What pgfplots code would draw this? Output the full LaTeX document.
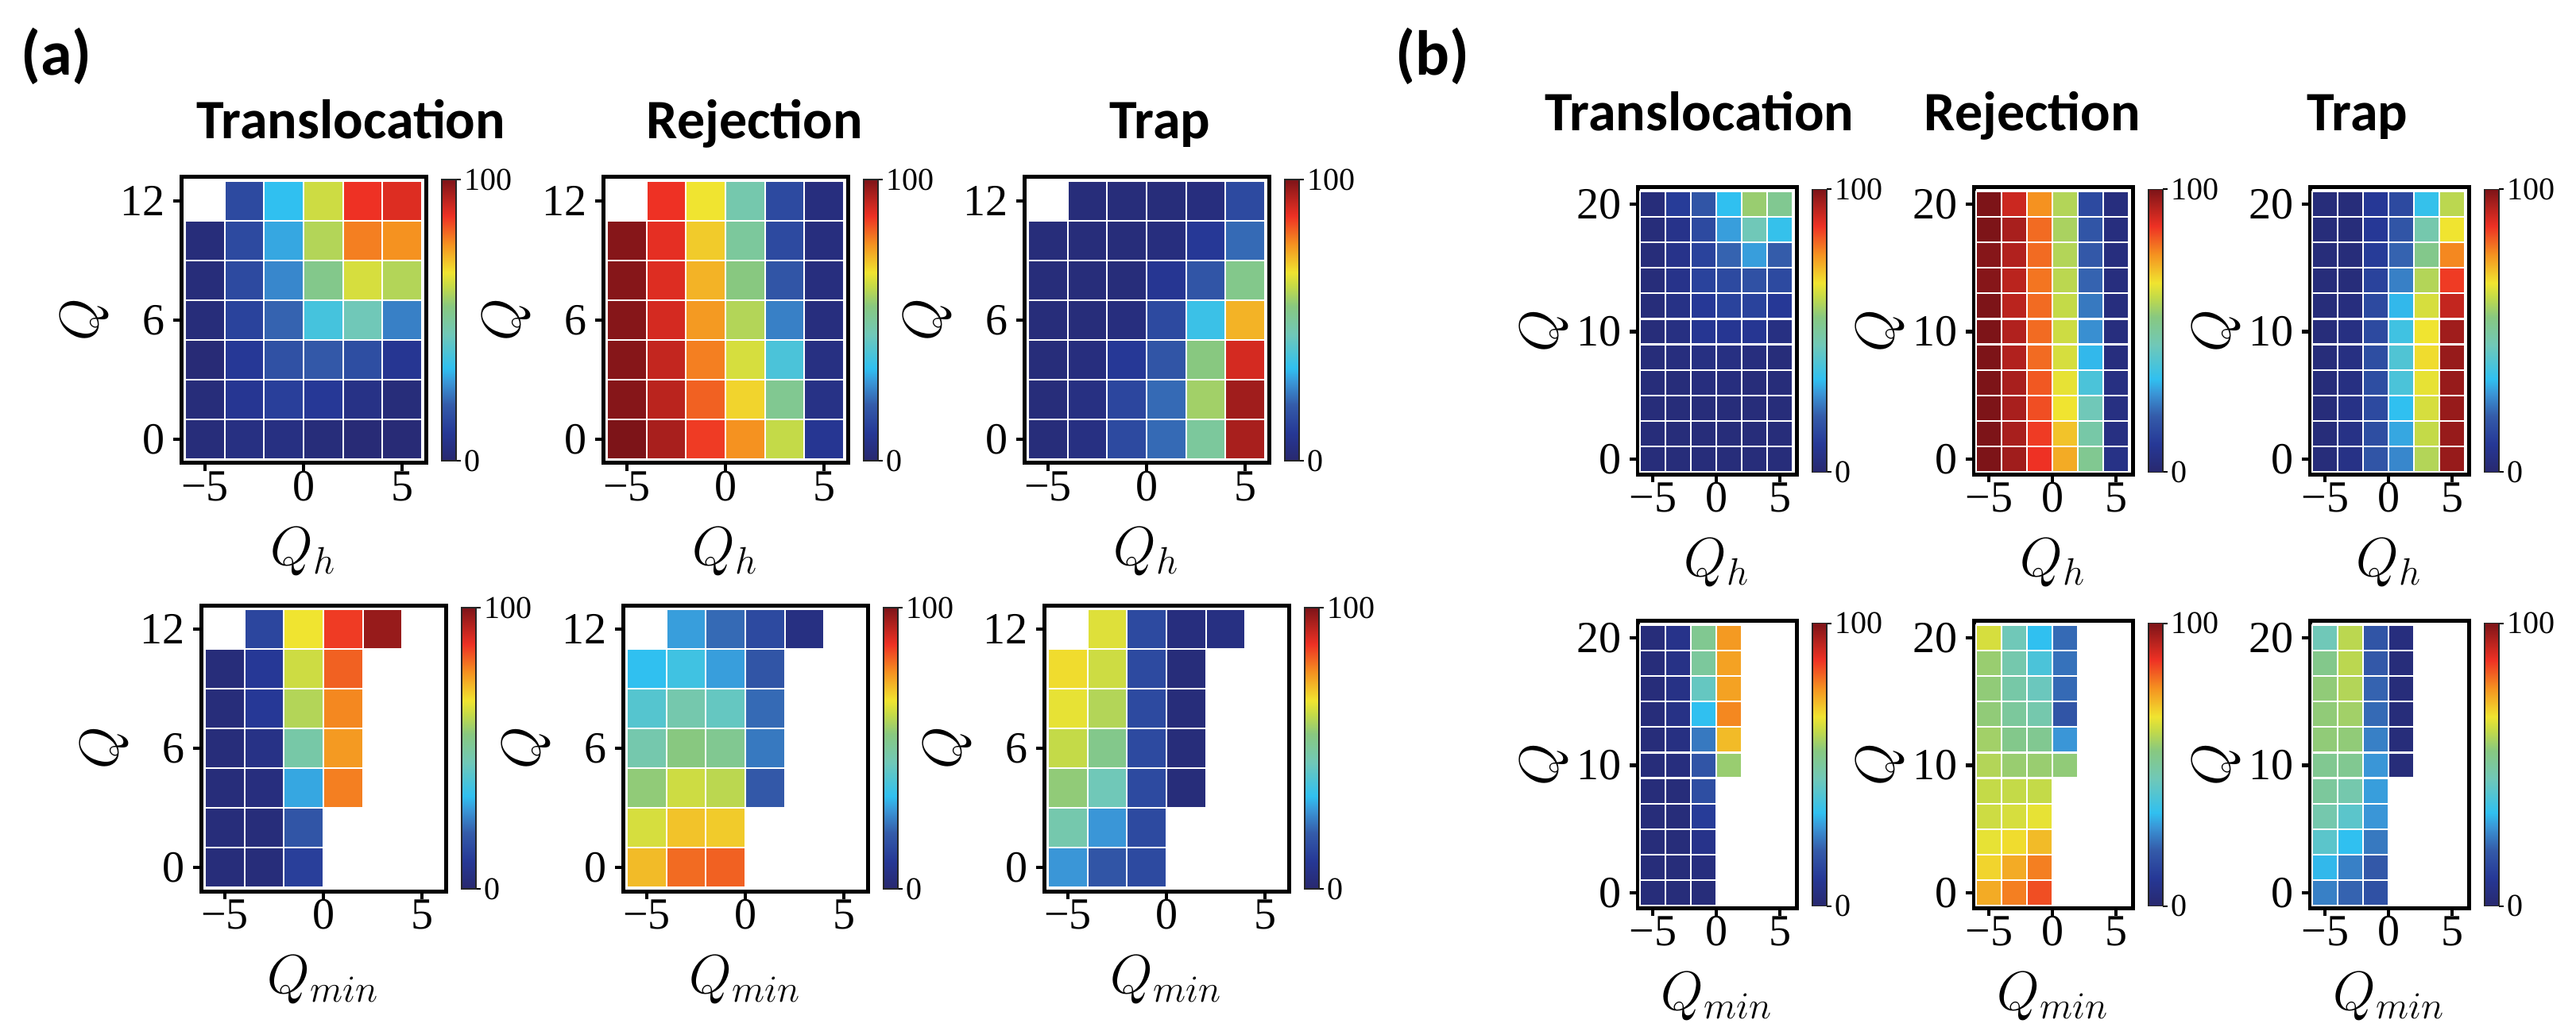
\documentclass[border=0pt]{standalone}
\usepackage{fontspec}
\setmainfont{Liberation Serif}
\newfontfamily\titlefont{Carlito}
\usepackage{pgfplots}
\usepackage{pgfplotstable}
\pgfplotsset{compat=1.18}

\newcommand\ticksz{\fontsize{14}{16}\selectfont}
\newcommand\cbsz{\fontsize{10}{11}\selectfont}
\newcommand\qsz{\fontsize{17.28}{20}\selectfont}
\newcommand\ttsz{\titlefont\bfseries\fontsize{17.5}{20}\selectfont}

% ---------------- data: x y value ----------------
\pgfplotstableread{
x y c
-3 12 15
-1 12 33
1 12 63
3 12 87
5 12 89
-5 10 3
-3 10 15
-1 10 30
1 10 60
3 10 79
5 10 77
-5 8 3
-3 8 15
-1 8 26
1 8 53
3 8 64
5 8 60
-5 6 3
-3 6 13
-1 6 21
1 6 37
3 6 45
5 6 25
-5 4 2
-3 4 10
-1 4 17
1 4 19
3 4 16
5 4 9
-5 2 3
-3 2 9
-1 2 12
1 2 10
3 2 6
5 2 3
-5 0 3
-3 0 5
-1 0 5
1 0 3
3 0 2
5 0 2
}\tAa
\pgfplotstableread{
x y c
-3 12 87
-1 12 67
1 12 47
3 12 15
5 12 4
-5 10 99
-3 10 88
-1 10 70
1 10 50
3 10 15
5 10 4
-5 8 99
-3 8 89
-1 8 73
1 8 55
3 8 18
5 8 4
-5 6 99
-3 6 90
-1 6 76
1 6 60
3 6 25
5 6 4
-5 4 99
-3 4 92
-1 4 79
1 4 64
3 4 38
5 4 5
-5 2 99
-3 2 93
-1 2 82
1 2 69
3 2 52
5 2 6
-5 0 100
-3 0 95
-1 0 86
1 0 77
3 0 62
5 0 9
}\tAb
\pgfplotstableread{
x y c
-3 12 3
-1 12 3
1 12 3
3 12 4
5 12 15
-5 10 3
-3 10 3
-1 10 3
1 10 4
3 10 10
5 10 22
-5 8 3
-3 8 3
-1 8 3
1 8 9
3 8 18
5 8 53
-5 6 3
-3 6 3
-1 6 4
1 6 15
3 6 35
5 6 73
-5 4 3
-3 4 4
-1 4 10
1 4 18
3 4 55
5 4 90
-5 2 3
-3 2 5
-1 2 14
1 2 22
3 2 58
5 2 96
-5 0 3
-3 0 5
-1 0 15
1 0 22
3 0 50
5 0 95
}\tAc
\pgfplotstableread{
x y c
-3 12 14
-1 12 67
1 12 86
3 12 97
-5 10 3
-3 10 10
-1 10 63
1 10 82
-5 8 3
-3 8 10
-1 8 60
1 8 78
-5 6 3
-3 6 6
-1 6 48
1 6 76
-5 4 3
-3 4 4
-1 4 30
1 4 79
-5 2 3
-3 2 3
-1 2 18
-5 0 3
-3 0 3
-1 0 12
}\tAd
\pgfplotstableread{
x y c
-3 12 29
-1 12 22
1 12 15
3 12 5
-5 10 33
-3 10 36
-1 10 29
1 10 18
-5 8 40
-3 8 47
-1 8 43
1 8 22
-5 6 47
-3 6 55
-1 6 52
1 6 24
-5 4 56
-3 4 63
-1 4 61
1 4 19
-5 2 64
-3 2 71
-1 2 70
-5 0 72
-3 0 81
-1 0 82
}\tAe
\pgfplotstableread{
x y c
-3 12 65
-1 12 15
1 12 4
3 12 5
-5 10 68
-3 10 63
-1 10 15
1 10 3
-5 8 66
-3 8 60
-1 8 15
1 8 3
-5 6 62
-3 6 53
-1 6 15
1 6 3
-5 4 56
-3 4 45
-1 4 15
1 4 3
-5 2 47
-3 2 28
-1 2 15
-5 0 28
-3 0 18
-1 0 15
}\tAf
\pgfplotstableread{
x y c
-5 20 3
-3 20 11
-1 20 18
1 20 33
3 20 57
5 20 52
-5 18 3
-3 18 7
-1 18 15
1 18 29
3 18 45
5 18 34
-5 16 3
-3 16 7
-1 16 13
1 16 21
3 16 29
5 16 20
-5 14 3
-3 14 7
-1 14 13
1 14 15
3 14 17
5 14 15
-5 12 3
-3 12 6
-1 12 10
1 12 13
3 12 13
5 12 10
-5 10 3
-3 10 5
-1 10 9
1 10 9
3 10 9
5 10 5
-5 8 3
-3 8 4
-1 8 5
1 8 5
3 8 4
5 8 3
-5 6 3
-3 6 3
-1 6 4
1 6 4
3 6 3
5 6 3
-5 4 3
-3 4 3
-1 4 3
1 4 3
3 4 3
5 4 3
-5 2 3
-3 2 3
-1 2 3
1 2 3
3 2 3
5 2 3
-5 0 3
-3 0 3
-1 0 3
1 0 3
3 0 3
5 0 3
}\tBa
\pgfplotstableread{
x y c
-5 20 100
-3 20 91
-1 20 77
1 20 60
3 20 15
5 20 4
-5 18 100
-3 18 95
-1 18 81
1 18 59
3 18 18
5 18 4
-5 16 99
-3 16 94
-1 16 81
1 16 60
3 16 19
5 16 4
-5 14 99
-3 14 93
-1 14 80
1 14 61
3 14 21
5 14 4
-5 12 100
-3 12 93
-1 12 81
1 12 62
3 12 24
5 12 4
-5 10 100
-3 10 94
-1 10 81
1 10 63
3 10 27
5 10 4
-5 8 100
-3 8 94
-1 8 81
1 8 64
3 8 32
5 8 4
-5 6 100
-3 6 95
-1 6 83
1 6 66
3 6 38
5 6 5
-5 4 100
-3 4 95
-1 4 84
1 4 67
3 4 45
5 4 5
-5 2 100
-3 2 95
-1 2 86
1 2 71
3 2 48
5 2 5
-5 0 100
-3 0 96
-1 0 87
1 0 74
3 0 52
5 0 6
}\tBb
\pgfplotstableread{
x y c
-5 20 3
-3 20 3
-1 20 10
1 20 15
3 20 34
5 20 61
-5 18 3
-3 18 3
-1 18 10
1 18 18
3 18 47
5 18 67
-5 16 3
-3 16 3
-1 16 11
1 16 21
3 16 53
5 16 78
-5 14 3
-3 14 3
-1 14 13
1 14 25
3 14 60
5 14 86
-5 12 3
-3 12 4
-1 12 15
1 12 32
3 12 64
5 12 92
-5 10 3
-3 10 5
-1 10 15
1 10 36
3 10 67
5 10 96
-5 8 3
-3 8 5
-1 8 16
1 8 39
3 8 68
5 8 97
-5 6 3
-3 6 5
-1 6 16
1 6 38
3 6 66
5 6 97
-5 4 3
-3 4 6
-1 4 15
1 4 33
3 4 64
5 4 97
-5 2 3
-3 2 6
-1 2 16
1 2 30
3 2 62
5 2 97
-5 0 3
-3 0 6
-1 0 18
1 0 26
3 0 60
5 0 97
}\tBc
\pgfplotstableread{
x y c
-5 20 3
-3 20 7
-1 20 52
1 20 76
-5 18 3
-3 18 6
-1 18 50
1 18 75
-5 16 3
-3 16 6
-1 16 43
1 16 75
-5 14 3
-3 14 6
-1 14 33
1 14 78
-5 12 3
-3 12 5
-1 12 24
1 12 72
-5 10 3
-3 10 4
-1 10 18
1 10 57
-5 8 3
-3 8 3
-1 8 16
-5 6 3
-3 6 3
-1 6 11
-5 4 3
-3 4 3
-1 4 7
-5 2 3
-3 2 3
-1 2 4
-5 0 3
-3 0 3
-1 0 3
}\tBd
\pgfplotstableread{
x y c
-5 20 64
-3 20 45
-1 20 33
1 20 22
-5 18 57
-3 18 47
-1 18 38
1 18 23
-5 16 56
-3 16 48
-1 16 44
1 16 22
-5 14 56
-3 14 50
-1 14 47
1 14 18
-5 12 58
-3 12 53
-1 12 52
1 12 28
-5 10 60
-3 10 57
-1 10 57
1 10 56
-5 8 62
-3 8 62
-1 8 62
-5 6 63
-3 6 64
-1 6 66
-5 4 66
-3 4 68
-1 4 72
-5 2 69
-3 2 74
-1 2 79
-5 0 74
-3 0 79
-1 0 84
}\tBe
\pgfplotstableread{
x y c
-5 20 45
-3 20 61
-1 20 18
1 20 4
-5 18 53
-3 18 61
-1 18 19
1 18 3
-5 16 56
-3 16 60
-1 16 21
1 16 3
-5 14 56
-3 14 58
-1 14 22
1 14 3
-5 12 56
-3 12 56
-1 12 25
1 12 3
-5 10 52
-3 10 52
-1 10 28
1 10 3
-5 8 50
-3 8 47
-1 8 29
-5 6 47
-3 6 41
-1 6 28
-5 4 41
-3 4 33
-1 4 24
-5 2 32
-3 2 25
-1 2 19
-5 0 25
-3 0 21
-1 0 17
}\tBf

% ---------------- cell marks (half width, half height in pt) ----------------
\pgfdeclareplotmark{cA}{\pgfpathrectangle{\pgfqpoint{-6.21pt}{-6.25pt}}{\pgfqpoint{12.42pt}{12.5pt}}\pgfusepathqfillstroke}
\pgfdeclareplotmark{cB}{\pgfpathrectangle{\pgfqpoint{-4.0pt}{-4.015pt}}{\pgfqpoint{8.0pt}{8.03pt}}\pgfusepathqfillstroke}

\pgfplotsset{
  colormap={ref}{
    rgb255(0cm)=(40,40,110)
    rgb255(1cm)=(38,56,150)
    rgb255(2cm)=(52,92,170)
    rgb255(2.8cm)=(58,150,215)
    rgb255(3.3cm)=(48,192,240)
    rgb255(4.5cm)=(112,200,184)
    rgb255(5.5cm)=(136,200,128)
    rgb255(6.2cm)=(196,218,72)
    rgb255(6.7cm)=(240,228,48)
    rgb255(7.7cm)=(245,146,32)
    rgb255(8.7cm)=(238,49,36)
    rgb255(10cm)=(125,20,24)
  },
  cellplot/.style={scatter, only marks, point meta=explicit,
    scatter/use mapped color={draw=white, fill=mapped color},
    mark options={line width=0.55pt}},
  cb/.style={colorbar, colorbar shift/.style={xshift=5pt},
    colorbar style={
    width=4.5pt, height=#1,
    at={(parent axis.east)}, anchor=west,
    xtick=\empty, ytick={0,100}, yticklabels={0,100},
    ytick pos=right, yticklabel pos=right,
    tick align=outside, major tick length=1.5pt,
    major tick style={line width=0.5pt, black},
    axis line style={line width=0.4pt, black!85},
    yticklabel style={font=\cbsz, inner sep=1pt},
    ylabel={}, xlabel={}, title={}}},
  base/.style={
    scale only axis, axis on top, anchor=north west,
    xtick={-5,0,5}, xticklabels={−5,0,5},
    xtick pos=lower, ytick pos=left,
    tick align=outside, major tick length=2.4pt,
    major tick style={line width=1.1pt, black},
    axis line style={line width=1.25pt},
    tick label style={font=\ticksz},
    xticklabel style={inner sep=0pt},
    yticklabel style={inner sep=2.5pt},
    colormap name=ref, point meta min=0, point meta max=100,
    every axis x label/.style={at={(axis description cs:0.5,0)}, yshift=-28pt, anchor=center, font=\qsz},
    ylabel={$Q$},
  },
  pa/.style={base, width=77pt, height=90pt, xmin=-6.2, xmax=6.2, ymin=-1.2, ymax=13.2,
    ytick={0,6,12}, yticklabels={0,6,12}, cb=88.5pt,
    every axis y label/.style={at={(axis description cs:0,0.5)}, xshift=-30.25pt, rotate=90, anchor=center, font=\qsz},
    every axis title/.style={at={(axis description cs:0.5,1)}, anchor=base, yshift=12pt, font=\ttsz}},
  pb/.style={base, width=50pt, height=90.25pt, xmin=-6.2, xmax=6.3, ymin=-1.18, ymax=21.3,
    ytick={0,10,20}, yticklabels={0,10,20}, cb=89pt,
    every axis y label/.style={at={(axis description cs:0,0.5)}, xshift=-29.25pt, rotate=90, anchor=center, font=\qsz},
    every axis title/.style={at={(axis description cs:0.5,1)}, anchor=base, yshift=17.75pt, font=\ttsz}},
}

\begin{document}
\begin{tikzpicture}
\useasboundingbox (0,0) rectangle (810.5pt,-325.75pt);

\node[font=\titlefont\bfseries\fontsize{20}{24}\selectfont] at (17.75pt,-17.75pt) {(a)};
\node[font=\titlefont\bfseries\fontsize{20}{24}\selectfont] at (450.75pt,-17.75pt) {(b)};

% ----- (a) top row -----
\begin{axis}[pa, xlabel={$Q_h$}, at={(57pt,-55.75pt)}, title={Translocation}, title style={xshift=15pt}]
\addplot[cellplot, mark=cA] table[x=x,y=y,meta=c]{\tAa};
\end{axis}
\begin{axis}[pa, xlabel={$Q_h$}, at={(189.75pt,-55.75pt)}, title={Rejection}, title style={xshift=9.25pt}]
\addplot[cellplot, mark=cA] table[x=x,y=y,meta=c]{\tAb};
\end{axis}
\begin{axis}[pa, xlabel={$Q_h$}, at={(322.25pt,-55.75pt)}, title={Trap}, title style={xshift=4.25pt}]
\addplot[cellplot, mark=cA] table[x=x,y=y,meta=c]{\tAc};
\end{axis}

% ----- (a) bottom row -----
\begin{axis}[pa, xlabel={$Q_{min}$}, at={(63.25pt,-190.5pt)}]
\addplot[cellplot, mark=cA] table[x=x,y=y,meta=c]{\tAd};
\end{axis}
\begin{axis}[pa, xlabel={$Q_{min}$}, at={(196pt,-190.5pt)}]
\addplot[cellplot, mark=cA] table[x=x,y=y,meta=c]{\tAe};
\end{axis}
\begin{axis}[pa, xlabel={$Q_{min}$}, at={(328.5pt,-190.5pt)}]
\addplot[cellplot, mark=cA] table[x=x,y=y,meta=c]{\tAf};
\end{axis}

% ----- (b) top row -----
\begin{axis}[pb, xlabel={$Q_h$}, at={(515.25pt,-59pt)}, title={Translocation}, title style={xshift=-5.5pt}]
\addplot[cellplot, mark=cB] table[x=x,y=y,meta=c]{\tBa};
\end{axis}
\begin{axis}[pb, xlabel={$Q_h$}, at={(621pt,-59pt)}, title={Rejection}, title style={xshift=-6.5pt}]
\addplot[cellplot, mark=cB] table[x=x,y=y,meta=c]{\tBb};
\end{axis}
\begin{axis}[pb, xlabel={$Q_h$}, at={(726.75pt,-59pt)}, title={Trap}, title style={xshift=-10pt}]
\addplot[cellplot, mark=cB] table[x=x,y=y,meta=c]{\tBc};
\end{axis}

% ----- (b) bottom row -----
\begin{axis}[pb, xlabel={$Q_{min}$}, at={(515.25pt,-195.5pt)}]
\addplot[cellplot, mark=cB] table[x=x,y=y,meta=c]{\tBd};
\end{axis}
\begin{axis}[pb, xlabel={$Q_{min}$}, at={(621pt,-195.5pt)}]
\addplot[cellplot, mark=cB] table[x=x,y=y,meta=c]{\tBe};
\end{axis}
\begin{axis}[pb, xlabel={$Q_{min}$}, at={(726.75pt,-195.5pt)}]
\addplot[cellplot, mark=cB] table[x=x,y=y,meta=c]{\tBf};
\end{axis}
\end{tikzpicture}
\end{document}
